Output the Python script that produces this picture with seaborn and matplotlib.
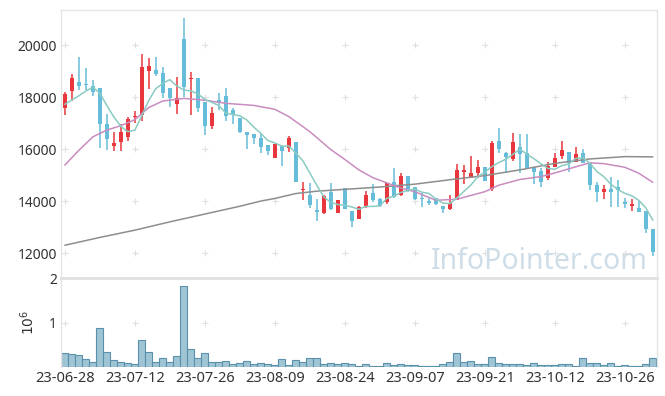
import numpy as np
import pandas as pd
import matplotlib
matplotlib.use("Agg")
import matplotlib.pyplot as plt
import seaborn as sns

# daily candles, 85 trading days (23-06-28 .. 23-11-01)
opens = [17577, 18218, 18590, 18474, 18423, 18335, 16962, 16116, 16256, 16460,
         17230, 17321, 19000, 19038, 18912, 18335, 17719, 20231, 18681, 18742,
         17796, 16896, 17900, 18039, 17500, 17204, 16643, 16577, 16435, 16154,
         15666, 16115, 16050, 16258, 14412, 14231, 13654, 13527, 14358, 13550,
         14489, 13615, 13296, 13781, 14319, 14066, 13973, 14731, 14231, 14962,
         14527, 14127, 14012, 14104, 13819, 13681, 14039, 15127, 14896, 15066,
         15319, 14450, 16308, 15858, 15615, 16066, 15858, 15296, 15165, 14873,
         15319, 15731, 15873, 15512, 15835, 15450, 14616, 14335, 14462, 14527,
         13973, 13819, 13742, 13615, 12923]
highs = [18180, 18885, 19538, 19115, 18667, 18335, 17346, 16641, 16962, 17243,
         17474, 19654, 19520, 19550, 19165, 18335, 18781, 21027, 18973, 18742,
         17796, 17627, 18165, 18358, 17565, 17204, 16643, 16577, 16604, 16154,
         16192, 16115, 16500, 16258, 14742, 14681, 14066, 14230, 14681, 14038,
         14520, 13615, 13800, 14385, 14654, 14100, 14704, 15258, 15089, 14962,
         14550, 14319, 14127, 14115, 13819, 14231, 15412, 15385, 15731, 15577,
         15319, 16308, 16796, 15870, 16627, 16577, 16577, 15296, 15258, 15512,
         15835, 16319, 15873, 16089, 15988, 15450, 14742, 14616, 14935, 14808,
         14104, 14066, 14000, 13615, 12923]
lows = [17308, 17859, 18282, 18282, 18051, 16040, 15962, 15936, 15936, 16308,
        16987, 17064, 18300, 18808, 17950, 17627, 17335, 18012, 17308, 17412,
        16539, 16769, 17500, 17077, 16950, 16616, 15989, 16181, 15858, 15769,
        15666, 15358, 15873, 14742, 14039, 13742, 13242, 13500, 13650, 13550,
        13692, 12989, 13296, 13750, 13973, 13780, 13885, 14100, 14200, 14350,
        14050, 13781, 13846, 13846, 13550, 13650, 14039, 14642, 14896, 14873,
        14781, 14400, 15846, 15066, 15550, 15066, 15258, 14654, 14527, 14820,
        15300, 15604, 15104, 15500, 15450, 14423, 13973, 14077, 13781, 13758,
        13719, 13627, 13580, 12758, 11885]
closes = [18115, 18744, 18410, 18450, 18180, 16960, 16385, 16218, 16641, 17140,
          17260, 19167, 19180, 18885, 18165, 17950, 17950, 18396, 18742, 17589,
          16896, 17373, 17780, 17281, 17308, 16666, 16550, 16412, 16089, 15935,
          16192, 15935, 16435, 14742, 14450, 13846, 13565, 14192, 13692, 14038,
          13692, 13242, 13758, 14231, 14039, 13808, 14681, 14166, 14962, 14423,
          14066, 14089, 13935, 13873, 13681, 13912, 15192, 15192, 15089, 15319,
          14781, 16242, 15988, 15704, 16258, 15808, 15258, 15127, 14742, 15346,
          15642, 15962, 15450, 15808, 15450, 14616, 14358, 14462, 14358, 14423,
          13885, 13885, 13589, 12912, 12050]
volume_m = [0.31, 0.30, 0.27, 0.18, 0.11, 0.89, 0.34, 0.16, 0.11, 0.09,
            0.07, 0.61, 0.34, 0.11, 0.20, 0.11, 0.25, 1.84, 0.41, 0.20,
            0.31, 0.11, 0.11, 0.14, 0.07, 0.09, 0.14, 0.07, 0.09, 0.07,
            0.05, 0.18, 0.05, 0.16, 0.11, 0.20, 0.20, 0.07, 0.09, 0.07,
            0.09, 0.07, 0.02, 0.07, 0.02, 0.02, 0.09, 0.05, 0.07, 0.05,
            0.05, 0.02, 0.02, 0.02, 0.07, 0.11, 0.31, 0.11, 0.14, 0.07,
            0.07, 0.23, 0.09, 0.07, 0.07, 0.07, 0.05, 0.09, 0.05, 0.05,
            0.05, 0.07, 0.07, 0.02, 0.20, 0.09, 0.09, 0.05, 0.09, 0.02,
            0.05, 0.02, 0.02, 0.07, 0.20]

# moving averages (history before the window is not shown)
ma5_head = [17720, 17890, 18050, 18230]
ma20_idx = [0, 2, 4, 6, 8, 10, 12, 14, 17, 20, 23, 27, 30, 32, 35, 38, 40, 42,
            44, 46, 48, 50, 53, 56, 60, 62, 65, 68, 70, 73, 75, 77, 80, 82, 84]
ma20_val = [15385, 15950, 16470, 16730, 16900, 17130, 17600, 17850, 17950, 17880,
            17760, 17680, 17530, 17250, 16670, 15980, 15600, 15200, 14900, 14700,
            14500, 14360, 14030, 14070, 14360, 14610, 14830, 14940, 15080, 15320,
            15470, 15440, 15300, 15070, 14720]
ma120_idx = [0, 5, 10, 15, 20, 25, 28, 30, 33, 36, 40, 45, 50, 55, 60, 65, 70, 75, 80, 84]
ma120_val = [12300, 12600, 12880, 13200, 13500, 13800, 14000, 14100, 14290, 14380,
             14450, 14540, 14650, 14820, 14980, 15200, 15450, 15620, 15710, 15700]

tick_labels = ["23-06-28", "23-07-12", "23-07-26", "23-08-09", "23-08-24",
               "23-09-07", "23-09-21", "23-10-12", "23-10-26"]
tick_step = 10

RED = "#e8363c"
BLUE = "#66bdd9"

sns.set_theme(style="white")
plt.rcParams["font.family"] = ["Noto Sans", "DejaVu Sans"]

df = pd.DataFrame({"open": opens, "high": highs, "low": lows,
                   "close": closes, "volume": volume_m})
df["idx"] = np.arange(len(df))
df["color"] = np.where(df["close"] >= df["open"], RED, BLUE)
df["body_lo"] = df[["open", "close"]].min(axis=1)
df["body_h"] = (df["close"] - df["open"]).abs().clip(lower=40)
ma5 = df["close"].rolling(5).mean()
ma5.iloc[:4] = ma5_head

fig = plt.figure(figsize=(6.65, 3.96), dpi=100)
ax = fig.add_axes([0.0917, 0.298, 0.8963, 0.6767])
axv = fig.add_axes([0.0917, 0.0732, 0.8963, 0.2248], sharex=ax)

# candles
ax.vlines(df["idx"], df["low"], df["high"], colors=df["color"], lw=1.1, zorder=2)
ax.bar(df["idx"], df["body_h"], bottom=df["body_lo"], width=0.62,
       color=df["color"], linewidth=0, zorder=3)

# moving averages
sns.lineplot(x=ma120_idx, y=ma120_val, ax=ax, color="#8e8e8e", lw=1.1, zorder=4)
sns.lineplot(x=ma20_idx, y=ma20_val, ax=ax, color="#c98cc0", lw=1.1, zorder=4)
sns.lineplot(x=df["idx"], y=ma5, ax=ax, color="#8acbc2", lw=1.1, zorder=4)

# volume
sns.barplot(x=df["idx"], y=df["volume"], ax=axv, native_scale=True, width=1.0,
            color="#9fc5d5", edgecolor="#5a90aa", linewidth=0.8, saturation=1)

xt = np.arange(0, len(df), tick_step)
ax.set_xlim(-0.55, 84.6)
ax.set_ylim(11040, 21350)
yt = np.arange(12000, 20001, 2000)
ax.set_yticks(yt)
ax.set_yticklabels([str(v) for v in yt])
axv.set_ylim(0, 2.02)
axv.set_yticks([1, 2])
axv.set_yticklabels(["1", "2"])
axv.set_xticks(xt)
axv.set_xticklabels(tick_labels)
axv.set_ylabel("$10^6$", fontsize=10, color="#333333", labelpad=8)
axv.set_xlabel("")
ax.set_ylabel("")
plt.setp(ax.get_xticklabels(), visible=False)

# "+" grid markers at tick crossings
gx, gy = np.meshgrid(xt, yt)
ax.scatter(gx.ravel(), gy.ravel(), marker="+", s=20, color="#e0e0e0", lw=0.8, zorder=1)
gx, gy = np.meshgrid(xt, [1])
axv.scatter(gx.ravel(), gy.ravel(), marker="+", s=20, color="#e0e0e0", lw=0.8, zorder=1)

for a in (ax, axv):
    a.tick_params(length=0, labelsize=10, colors="#333333", pad=3)
    for s in a.spines.values():
        s.set_color("#e4e4e4")
        s.set_linewidth(1)
axv.tick_params(axis="x", labelsize=10.5)
ax.spines["bottom"].set_visible(False)
axv.spines["bottom"].set_visible(False)
axv.spines["top"].set_linewidth(2.2)
axv.spines["top"].set_color("#e2e2e2")

ax.text(0.985, 0.035, "InfoPointer.com", transform=ax.transAxes, ha="right",
        va="baseline", fontsize=20.5, color="#cedde7", zorder=0)

fig.savefig("out.png", dpi=100)
